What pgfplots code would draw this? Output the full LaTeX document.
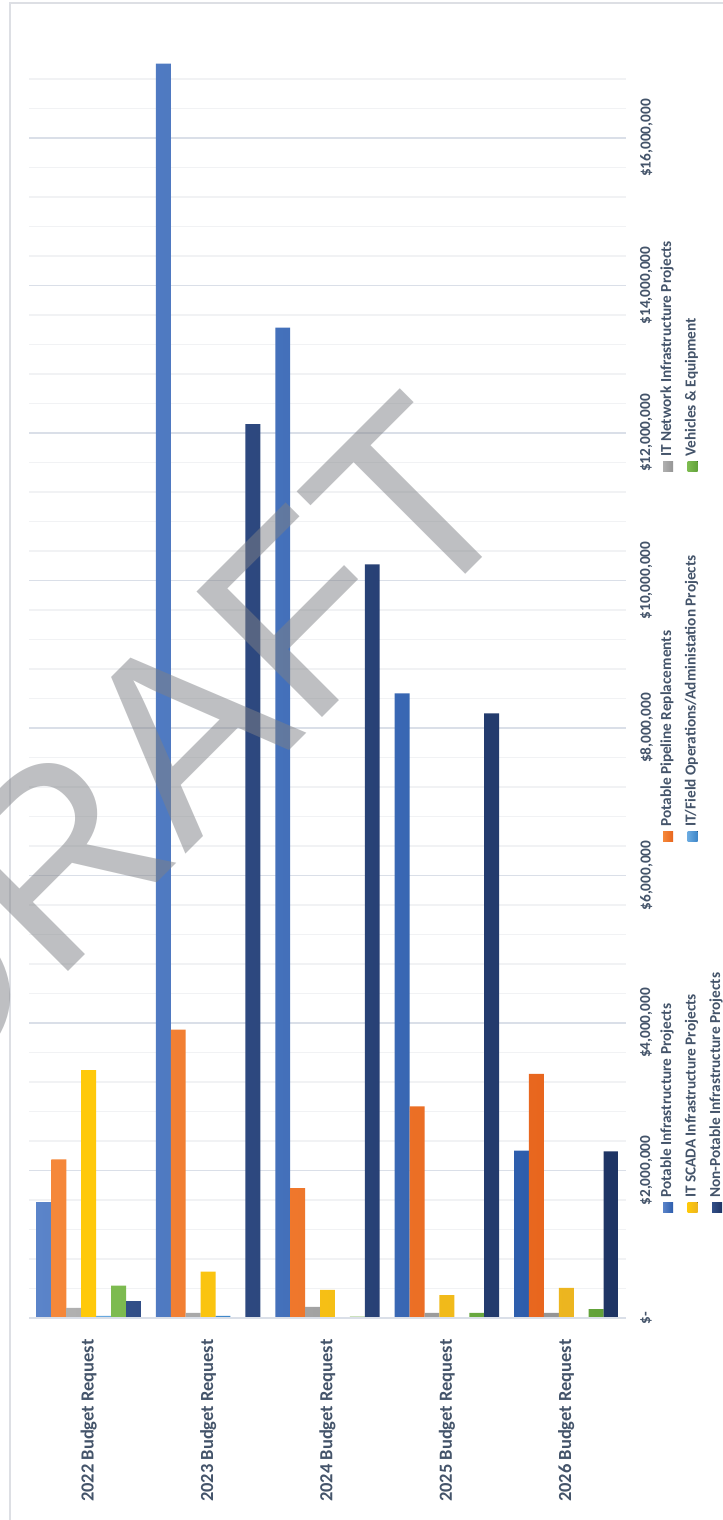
\documentclass[border=0pt]{standalone}
\usepackage{pgfplots}
\pgfplotsset{compat=1.18}
\usepackage{fontspec}
\setmainfont{Carlito}
\newfontfamily\wmfont{Liberation Sans}

\definecolor{lbl}{HTML}{44546A}
\definecolor{frame}{HTML}{DDDFE4}
\definecolor{gridmaj}{HTML}{DADFE8}
\definecolor{gridmin}{HTML}{F1F2F4}
\definecolor{wm}{RGB}{127,129,134}
% series colours: lighter on the left edge, darker on the right edge
\definecolor{blueL}{HTML}{5B84C9}\definecolor{blueR}{HTML}{2D5DAC}
\definecolor{orangeL}{HTML}{F5883A}\definecolor{orangeR}{HTML}{E8661E}
\definecolor{grayL}{HTML}{B0B0B0}\definecolor{grayR}{HTML}{959595}
\definecolor{yellowL}{HTML}{FFC90A}\definecolor{yellowR}{HTML}{ECB520}
\definecolor{ltblueL}{HTML}{6AAAE0}\definecolor{ltblueR}{HTML}{3E86C8}
\definecolor{greenL}{HTML}{7DBB50}\definecolor{greenR}{HTML}{62A23A}
\definecolor{navyL}{HTML}{324F88}\definecolor{navyR}{HTML}{1E3464}

\newcommand\catfont{\fontsize{18.5bp}{20bp}\selectfont\bfseries}
\newcommand\tickfont{\fontsize{15.3bp}{17bp}\selectfont\bfseries}

% one legend entry: marker centre (x,y) in px from the top-left corner
\newcommand\legentry[5]{%
  \fill[left color=#3, right color=#4] ({#1bp-5bp},{-#2bp-5bp}) rectangle ({#1bp+5bp},{-#2bp+5bp});
  \node[rotate=90, anchor=west, inner sep=0pt, text=lbl, font=\tickfont] at ({#1bp-1bp},{-#2bp+9bp}) {#5};}

\begin{document}
\begin{tikzpicture}
\path[use as bounding box] (0,0) rectangle (723bp,-1520bp);
\begin{scope}
\clip (0,0) rectangle (723bp,-1520bp);
\fill[white] (0,0) rectangle (723bp,-1520bp);
\draw[color=frame, line width=1.5bp] (10bp,-1520bp) -- (10bp,-3bp) -- (723bp,-3bp);

\begin{axis}[
  at={(29bp,-1318bp)}, anchor=south west,
  scale only axis, width=597bp, height=1268.5bp,
  xmin=-0.5, xmax=4.5, ymin=0, ymax=17200000,
  axis line style={draw=none},
  xtick={0,1,2,3,4},
  xticklabels={2022 Budget Request,2023 Budget Request,2024 Budget Request,2025 Budget Request,2026 Budget Request},
  xtick style={draw=none}, ytick style={draw=none},
  x tick label style={rotate=90, anchor=east, inner sep=0pt, font=\catfont, text=lbl},
  xticklabel shift=17bp,
  ytick={0,2000000,4000000,6000000,8000000,10000000,12000000,14000000,16000000},
  yticklabels={{\$-},{\$2,000,000},{\$4,000,000},{\$6,000,000},{\$8,000,000},{\$10,000,000},{\$12,000,000},{\$14,000,000},{\$16,000,000}},
  minor ytick={400000,800000,1200000,1600000,2400000,2800000,3200000,3600000,
    4400000,4800000,5200000,5600000,6400000,6800000,7200000,7600000,
    8400000,8800000,9200000,9600000,10400000,10800000,11200000,11600000,
    12400000,12800000,13200000,13600000,14400000,14800000,15200000,15600000,
    16400000,16800000},
  yticklabel pos=right,
  y tick label style={rotate=90, anchor=north, inner sep=0pt, font=\tickfont, text=lbl},
  yticklabel shift=14bp,
  scaled y ticks=false,
  ymajorgrids, yminorgrids,
  major grid style={color=gridmaj, line width=1.6bp},
  minor grid style={color=gridmin, line width=1.4bp},
  ybar, bar width=0.125,
]
% Potable Infrastructure Projects
\addplot[draw=none, left color=blueL, right color=blueR, bar shift=-0.375]
  coordinates {(0,1570000) (1,17010000) (2,13430000) (3,8470000) (4,2270000)};
% Potable Pipeline Replacements
\addplot[draw=none, left color=orangeL, right color=orangeR, bar shift=-0.25]
  coordinates {(0,2150000) (1,3910000) (2,1760000) (3,2870000) (4,3310000)};
% IT Network Infrastructure Projects
\addplot[draw=none, left color=grayL, right color=grayR, bar shift=-0.125]
  coordinates {(0,137000) (1,70000) (2,150000) (3,70000) (4,70000)};
% IT SCADA Infrastructure Projects
\addplot[draw=none, left color=yellowL, right color=yellowR, bar shift=0]
  coordinates {(0,3360000) (1,630000) (2,380000) (3,310000) (4,410000)};
% IT/Field Operations/Administation Projects
\addplot[draw=none, left color=ltblueL, right color=ltblueR, bar shift=0.125]
  coordinates {(0,30000) (1,30000)};
% Vehicles & Equipment
\addplot[draw=none, left color=greenL, right color=greenR, bar shift=0.25]
  coordinates {(0,440000) (2,20000) (3,70000) (4,120000)};
% Non-Potable Infrastructure Projects
\addplot[draw=none, left color=navyL, right color=navyR, bar shift=0.375]
  coordinates {(0,230000) (1,12120000) (2,10220000) (3,8200000) (4,2260000)};
% category axis line
\draw[color=gridmaj, line width=1.8bp] (axis cs:-0.5,0) -- (axis cs:4.5,0);
\end{axis}

% legend
\legentry{668}{1207}{blueL}{blueR}{Potable Infrastructure Projects}
\legentry{668}{836}{orangeL}{orangeR}{Potable Pipeline Replacements}
\legentry{668}{466}{grayL}{grayR}{IT Network Infrastructure Projects}
\legentry{692.5}{1207}{yellowL}{yellowR}{IT SCADA Infrastructure Projects}
\legentry{692.5}{836}{ltblueL}{ltblueR}{IT/Field Operations/Administation Projects}
\legentry{692.5}{466}{greenL}{greenR}{Vehicles \& Equipment}
\legentry{717}{1207}{navyL}{navyR}{Non-Potable Infrastructure Projects}

% watermark
\begin{scope}[shift={(-78bp,-1118bp)}, rotate=45]
  \node[anchor=base west, inner sep=0pt, outer sep=0pt, transform shape,
        text=wm, text opacity=0.5,
        font=\wmfont\fontsize{258bp}{258bp}\selectfont] at (0,0) {DRAFT};
\end{scope}
\end{scope}
\end{tikzpicture}
\end{document}
